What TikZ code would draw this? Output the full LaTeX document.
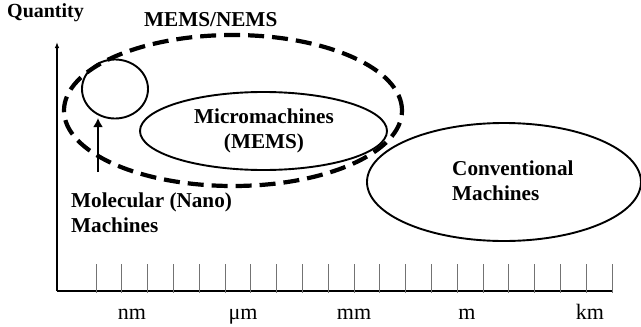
\documentclass[tikz,border=0pt]{standalone}
\usepackage{fontspec}
\setmainfont{Liberation Serif}
\usetikzlibrary{shapes.geometric,arrows.meta}
\tikzset{
  blob/.style={ellipse, draw, line width=1.9pt, inner sep=0pt},
  scopering/.style={ellipse, draw, line width=4.2pt, dash pattern=on 16pt off 8pt, inner sep=0pt},
  lbl/.style={font=\bfseries\fontsize{21.2}{25}\selectfont, inner sep=0pt},
  unit/.style={font=\fontsize{22}{26}\selectfont, inner sep=0pt, anchor=base},
  tick/.style={draw=black!55, line width=0.9pt},
}
\begin{document}
\begin{tikzpicture}[x=1pt,y=-1pt]
\useasboundingbox (0,0) rectangle (641,327);

% axes
\coordinate (origin) at (57,291);
\coordinate (ytop) at (57,42);
\coordinate (xend) at (613,291);
\draw[line width=1.3pt, -{Latex[length=6pt,width=4.5pt]}] (origin) -- (ytop);
\draw[line width=2pt] (origin) -- (xend);
\foreach \i in {0,...,20} {
  \draw[tick] (96+25.8*\i,264) -- (96+25.8*\i,293);
}

% scale labels
\node[unit] (nm) at (132,319) {nm};
\node[unit] (um) at (243,319) {μm};
\node[unit] (mm) at (354,319) {mm};
\node[unit] (m)  at (467,319) {m};
\node[unit] (km) at (590,319) {km};

% regions
\node[scopering, minimum width=338pt, minimum height=151pt] (mn) at (233,110.5) {};
\node[blob, minimum width=66pt, minimum height=59pt] (nano) at (115,89) {};
\node[blob, minimum width=247pt, minimum height=78pt] (micro) at (263.5,131) {};
\node[blob, minimum width=274pt, minimum height=118pt] (conv) at (504,182) {};

% texts (base anchors sit on the last line)
\node[lbl, font=\bfseries\fontsize{20}{24}\selectfont, anchor=base west] (qty) at (7,17) {Quantity};
\node[lbl, anchor=base west] (mntxt) at (144,26) {MEMS/NEMS};
\node[lbl, align=center, anchor=base] (microtxt) at (264,148) {Micromachines\\(MEMS)};
\node[lbl, align=left, anchor=base west] (convtxt) at (452,200) {Conventional\\Machines};
\node[lbl, align=left, anchor=base west] (nanotxt) at (71,232) {Molecular (Nano)\\Machines};

% pointer to the nano circle
\coordinate (arrbase) at (98,172);
\coordinate (arrtip) at (98,118);
\draw[line width=2.6pt, -{Latex[length=9pt,width=10pt]}] (arrbase) -- (arrtip);
\end{tikzpicture}
\end{document}
